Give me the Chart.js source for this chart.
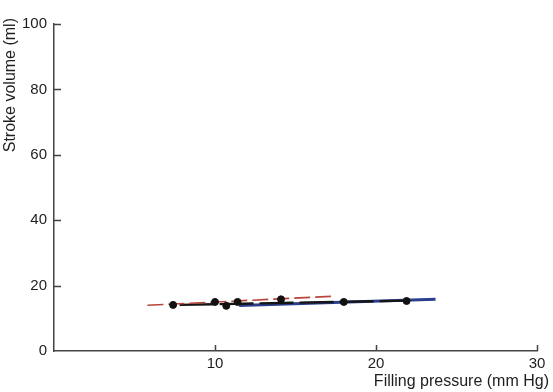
<!DOCTYPE html>
<html>
<head>
<meta charset="utf-8">
<script src="https://cdn.jsdelivr.net/npm/chart.js@4/dist/chart.umd.min.js"></script>
<style>
  html, body { margin: 0; padding: 0; background: #fff; }
  #wrap { width: 553px; height: 392px; }
</style>
</head>
<body>
<div id="wrap"><canvas id="chart"></canvas></div>
<script>
// measured points: filling pressure (mm Hg) vs stroke volume (ml)
const pressure = [7.4, 10.0, 10.7, 11.4, 14.1, 18.0, 21.9];
const volume = [14.1, 15.0, 13.8, 15.0, 15.8, 15.0, 15.3];

// fitted lines, end points only
const redLineX = [5.8, 17.2];
const redLineY = [14.0, 16.7];
const blueLineX = [11.5, 23.7];
const blueLineY = [13.9, 15.8];
const blackLineX = [7.8, 22.0];
const blackLineY = [14.1, 15.4];

const xTicks = [10, 20, 30];
const yTicks = [0, 20, 40, 60, 80, 100];

const toPoints = (xs, ys) => xs.map((x, i) => ({ x: x, y: ys[i] }));

const FONT = '"Liberation Sans", Arial, sans-serif';
const INK = '#1e1e1e';

// tick marks point into the plot, titles sit outside the scale boxes
const axisExtras = {
    id: 'axisExtras',
    afterDraw(chart) {
        const { ctx, scales: { x, y } } = chart;
        ctx.save();
        ctx.strokeStyle = '#444';
        ctx.lineWidth = 1.5;
        ctx.beginPath();
        yTicks.slice(1).forEach(v => {
            const py = Math.round(y.getPixelForValue(v)) + 0.5;
            ctx.moveTo(x.left, py);
            ctx.lineTo(x.left + 7, py);
        });
        xTicks.forEach(v => {
            const px = Math.round(x.getPixelForValue(v)) + 0.5;
            ctx.moveTo(px, y.bottom);
            ctx.lineTo(px, y.bottom - 6);
        });
        ctx.stroke();

        ctx.fillStyle = INK;
        ctx.font = '16px ' + FONT;
        ctx.textAlign = 'right';
        ctx.textBaseline = 'alphabetic';
        ctx.fillText('Filling pressure (mm Hg)', 549, 386);

        ctx.translate(15, 18);
        ctx.rotate(-Math.PI / 2);
        ctx.textAlign = 'right';
        ctx.fillText('Stroke volume (ml)', 0, 0);
        ctx.restore();
    }
};

new Chart(document.getElementById('chart'), {
    type: 'scatter',
    data: {
        datasets: [
            {
                type: 'line',
                data: toPoints(redLineX, redLineY),
                borderColor: '#b8463c',
                borderWidth: 1.6,
                borderDash: [16, 5],
                pointRadius: 0,
                order: 1
            },
            {
                type: 'line',
                data: toPoints(blueLineX, blueLineY),
                borderColor: '#2c3f8c',
                borderWidth: 3,
                pointRadius: 0,
                order: 3
            },
            {
                type: 'line',
                data: toPoints(blackLineX, blackLineY),
                borderColor: '#151515',
                borderWidth: 2.4,
                borderDash: [34, 6],
                pointRadius: 0,
                order: 2
            },
            {
                data: toPoints(pressure, volume),
                backgroundColor: '#111',
                borderColor: '#111',
                pointRadius: 3.5,
                order: 0
            }
        ]
    },
    options: {
        responsive: true,
        maintainAspectRatio: false,
        animation: false,
        layout: { padding: { top: 24, right: 16, left: 0, bottom: 0 } },
        plugins: {
            legend: { display: false },
            tooltip: { enabled: false }
        },
        scales: {
            x: {
                type: 'linear',
                min: 0,
                max: 30,
                afterBuildTicks: s => { s.ticks = xTicks.map(v => ({ value: v })); },
                afterFit: s => { s.height = 41; },
                grid: { display: false, drawTicks: false, tickLength: 0 },
                border: { display: true, color: '#444', width: 1.5 },
                ticks: {
                    padding: 4,
                    color: INK,
                    font: { family: FONT, size: 15 },
                    maxRotation: 0
                }
            },
            y: {
                min: 0,
                max: 100,
                afterBuildTicks: s => { s.ticks = yTicks.map(v => ({ value: v })); },
                afterFit: s => { s.width = 54; },
                grid: { display: false, drawTicks: false, tickLength: 0 },
                border: { display: true, color: '#444', width: 1.5 },
                ticks: {
                    padding: 7,
                    color: INK,
                    font: { family: FONT, size: 15 }
                }
            }
        }
    },
    plugins: [axisExtras]
});
</script>
</body>
</html>
